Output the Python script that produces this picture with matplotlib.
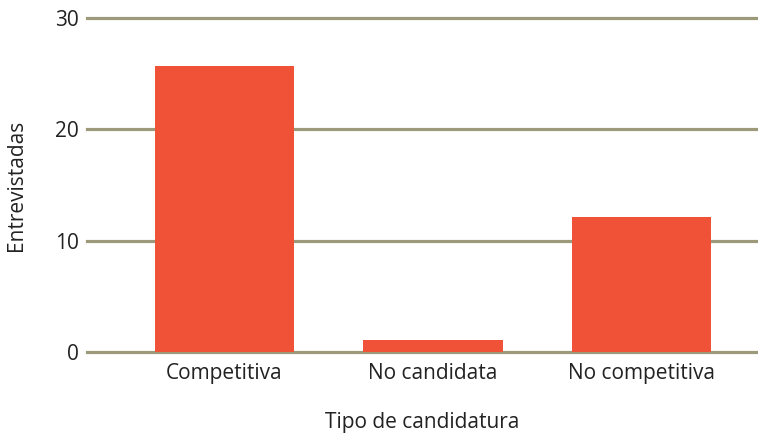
import matplotlib
matplotlib.use("Agg")
import matplotlib.pyplot as plt
import numpy as np

categories = ["Competitiva", "No candidata", "No competitiva"]
entrevistadas = [25.7, 1.1, 12.1]
y_ticks = [0, 10, 20, 30]

plt.rcParams["font.family"] = ["Open Sans", "DejaVu Sans"]
plt.rcParams["font.weight"] = "medium"

fig = plt.figure(figsize=(7.58, 4.33), dpi=100)
ax = fig.add_axes([0.1148, 0.187, 0.8852, 0.771])

x = np.arange(len(categories))
ax.bar(x, entrevistadas, width=0.67, color="#f05237", zorder=3)

# gridlines drawn unclipped so the 0 and 30 lines keep full thickness
for t in y_ticks:
    ax.axhline(t, color="#9c9a7b", linewidth=2.3, zorder=1, clip_on=False)

ax.set_ylim(0, 30)
ax.set_xlim(-0.66, 2.56)
ax.set_yticks(y_ticks)
ax.set_xticks(x)
ax.set_xticklabels(categories)

for spine in ax.spines.values():
    spine.set_visible(False)
ax.tick_params(axis="both", length=0, labelsize=15, colors="#222222")
ax.tick_params(axis="y", pad=6)
ax.tick_params(axis="x", pad=8)

ax.set_xlabel("Tipo de candidatura", fontsize=15, color="#222222", labelpad=20)
ax.set_ylabel("Entrevistadas", fontsize=15, color="#222222", labelpad=20)

fig.savefig("out.png", dpi=100)
